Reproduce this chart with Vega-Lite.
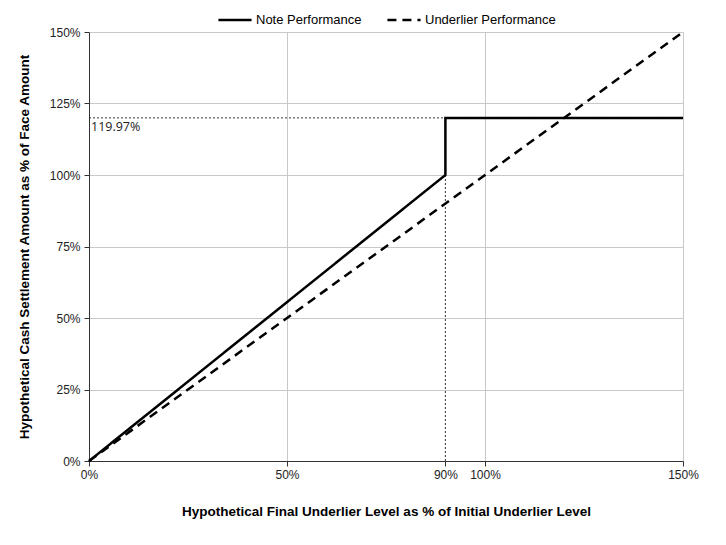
{
  "$schema": "https://vega.github.io/schema/vega-lite/v6.json",
  "width": 594,
  "height": 429,
  "autosize": "none",
  "padding": {"left": 89, "top": 32, "right": 43, "bottom": 84},
  "background": "white",
  "config": {
    "view": {"stroke": null},
    "font": "Liberation Sans",
    "axis": {"labelFont": "Liberation Sans", "titleFont": "Liberation Sans", "labelFontSize": 12, "labelColor": "#222222", "titleFontSize": 13.5, "titleFontWeight": "bold", "titleColor": "#000000", "domainColor": "#333333", "tickColor": "#333333", "gridColor": "#c8c8c8", "tickSize": 5, "labelFlush": false},
    "legend": {"layout": {"top": {"anchor": "middle"}}}
  },
  "layer": [
    {
      "data": {"values": [
        {"x": 0, "x2": 90, "y": 119.97, "y2": 119.97},
        {"x": 90, "x2": 90, "y": 0, "y2": 100}
      ]},
      "mark": {"type": "rule", "color": "#000000", "strokeWidth": 0.8, "strokeDash": [2, 2]},
      "encoding": {
        "x": {"field": "x", "type": "quantitative", "scale": {"domain": [0, 150], "nice": false}},
        "x2": {"field": "x2"},
        "y": {"field": "y", "type": "quantitative", "scale": {"domain": [0, 150], "nice": false}},
        "y2": {"field": "y2"}
      }
    },
    {
      "data": {"values": [
        {"series": "Note Performance", "x": 0, "y": 0, "o": 1},
        {"series": "Note Performance", "x": 90, "y": 100, "o": 2},
        {"series": "Note Performance", "x": 90, "y": 119.97, "o": 3},
        {"series": "Note Performance", "x": 150, "y": 119.97, "o": 4},
        {"series": "Underlier Performance", "x": 0, "y": 0, "o": 1},
        {"series": "Underlier Performance", "x": 150, "y": 150, "o": 2}
      ]},
      "mark": {"type": "line", "color": "#000000", "strokeWidth": 2.5},
      "encoding": {
        "x": {"field": "x", "type": "quantitative", "scale": {"domain": [0, 150], "nice": false},
          "axis": {"values": [0, 50, 90, 100, 150], "labelExpr": "datum.value + '%'", "title": "Hypothetical Final Underlier Level as % of Initial Underlier Level", "titlePadding": 24, "labelPadding": 3,
            "gridOpacity": {"condition": {"test": "datum.value == 90 || datum.value == 0", "value": 0}, "value": 1}}},
        "y": {"field": "y", "type": "quantitative", "scale": {"domain": [0, 150], "nice": false},
          "axis": {"values": [0, 25, 50, 75, 100, 125, 150], "labelExpr": "datum.value + '%'", "title": "Hypothetical Cash Settlement Amount as % of Face Amount", "titlePadding": 18, "labelPadding": 4,
            "gridOpacity": {"condition": {"test": "datum.value == 0", "value": 0}, "value": 1}}},
        "order": {"field": "o", "type": "quantitative"},
        "strokeDash": {"field": "series", "type": "nominal",
          "scale": {"domain": ["Note Performance", "Underlier Performance"], "range": [[1, 0], [9, 6]]},
          "legend": {"title": null, "orient": "top", "direction": "horizontal", "symbolType": "stroke", "symbolSize": 1100, "symbolStrokeWidth": 2.5, "symbolStrokeColor": "#000000", "labelFontSize": 13, "labelColor": "#000000", "labelFont": "Liberation Sans", "labelOffset": 3, "columnPadding": 20, "offset": 0, "padding": 0}}
      }
    },
    {
      "data": {"values": [{"x": 0, "y": 119.97, "label": "119.97%"}]},
      "mark": {"type": "text", "align": "left", "baseline": "top", "dx": 2, "dy": 3, "fontSize": 12.5, "font": "Open Sans", "color": "#222222"},
      "encoding": {
        "x": {"field": "x", "type": "quantitative"},
        "y": {"field": "y", "type": "quantitative"},
        "text": {"field": "label"}
      }
    }
  ]
}
